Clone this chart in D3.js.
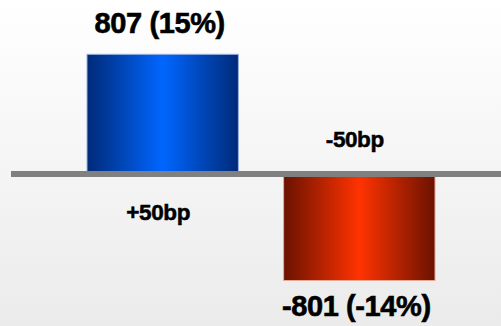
<!DOCTYPE html>
<html>
<head>
<meta charset="utf-8">
<script src="https://cdn.jsdelivr.net/npm/d3@7"></script>
<style>
  html, body { margin: 0; padding: 0; }
  svg { display: block; }
</style>
</head>
<body>
<script>
// ---- data ----
const categories = ["+50bp", "-50bp"];
const pctValues = [15.4, -13.7];       // bar heights (% change)
const absValues = [807, -801];         // value labels
const pctLabels = ["15%", "-14%"];

const W = 501, H = 326;
const svg = d3.select("body").append("svg").attr("width", W).attr("height", H);
const defs = svg.append("defs");

// background gradient
const bg = defs.append("linearGradient").attr("id", "bg").attr("x1", 0).attr("y1", 0).attr("x2", 0).attr("y2", 1);
bg.append("stop").attr("offset", "0%").attr("stop-color", "#ffffff");
bg.append("stop").attr("offset", "100%").attr("stop-color", "#ebebeb");
svg.append("rect").attr("width", W).attr("height", H).attr("fill", "url(#bg)");

const barGrads = [
  { id: "gBlue", edge: "#002a78", mid: "#0066ff", stroke: "#9ab4e0" },
  { id: "gRed", edge: "#6a1200", mid: "#ff3300", stroke: "#e8a898" }
];
barGrads.forEach(g => {
  const lg = defs.append("linearGradient").attr("id", g.id).attr("x1", 0).attr("y1", 0).attr("x2", 1).attr("y2", 0);
  lg.append("stop").attr("offset", "0%").attr("stop-color", g.edge);
  lg.append("stop").attr("offset", "50%").attr("stop-color", g.mid);
  lg.append("stop").attr("offset", "100%").attr("stop-color", g.edge);
});

// scales
const x = d3.scaleBand().domain(categories).range([87, 435]).paddingInner(0.23).paddingOuter(0);
const y = d3.scaleLinear().domain([0, 15.4]).range([174, 54.3]);

const data = categories.map((c, i) => ({ c, pct: pctValues[i], abs: absValues[i], pl: pctLabels[i], g: barGrads[i] }));

// bars
svg.selectAll("rect.bar").data(data).enter().append("rect")
  .attr("class", "bar")
  .attr("x", d => x(d.c))
  .attr("width", x.bandwidth())
  .attr("y", d => Math.min(y(d.pct), y(0)))
  .attr("height", d => Math.abs(y(d.pct) - y(0)))
  .attr("fill", d => `url(#${d.g.id})`)
  .attr("stroke", d => d.g.stroke)
  .attr("stroke-width", 1);

// zero axis line
svg.append("line")
  .attr("x1", 11).attr("x2", W)
  .attr("y1", y(0)).attr("y2", y(0))
  .attr("stroke", "#808080").attr("stroke-width", 6);

const font = "'Liberation Sans', Arial, sans-serif";

// value labels
svg.selectAll("text.val").data(data).enter().append("text")
  .attr("class", "val")
  .attr("x", d => x(d.c) + x.bandwidth() / 2 - 3)
  .attr("y", d => d.pct >= 0 ? y(d.pct) - 21 : y(d.pct) + 36)
  .attr("text-anchor", "middle")
  .attr("font-family", font).attr("font-weight", "bold").attr("font-size", 29)
  .attr("letter-spacing", -0.4)
  .attr("fill", "#000").attr("stroke", "#000").attr("stroke-width", 0.6)
  .text(d => `${d.abs} (${d.pl})`);

// category labels (opposite side of axis)
svg.selectAll("text.cat").data(data).enter().append("text")
  .attr("class", "cat")
  .attr("x", d => x(d.c) + x.bandwidth() / 2 - 4.5)
  .attr("y", d => d.pct >= 0 ? y(0) + 46 : y(0) - 27)
  .attr("text-anchor", "middle")
  .attr("font-family", font).attr("font-weight", "bold").attr("font-size", 22.5)
  .attr("letter-spacing", -0.4)
  .attr("fill", "#000").attr("stroke", "#000").attr("stroke-width", 0.5)
  .text(d => d.c);
</script>
</body>
</html>
